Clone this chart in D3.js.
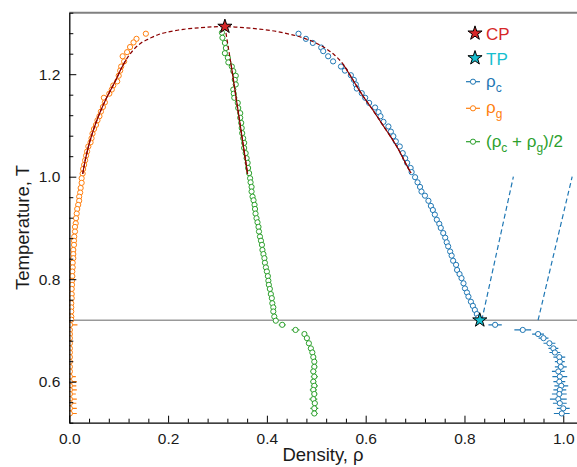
<!DOCTYPE html>
<html>
<head>
<meta charset="utf-8">
<script src="https://cdn.jsdelivr.net/npm/d3@7"></script>
<style>
  body { margin: 0; background: #fff; }
  svg text { font-family: "Liberation Sans", Arial, Helvetica, sans-serif; }
  .axis text { font-size: 15.5px; fill: #1a1a1a; }
  .axis path, .axis line { stroke: #000; }
</style>
</head>
<body>
<svg id="chart" width="577" height="467"></svg>
<script>
// liquid branch, rho_c (above the triple point)
const tempsLiq = [1.279,1.269,1.261,1.252,1.245,1.235,1.225,1.215,1.207,1.198,1.189,1.180,1.172,1.163,1.154,1.144,1.135,1.126,1.118,1.107,1.098,1.088,1.079,1.069,1.059,1.046,1.036,1.027,1.017,1.009,0.999,0.989,0.980,0.971,0.963,0.953,0.943,0.935,0.926,0.916,0.908,0.900,0.890,0.881,0.872,0.864,0.854,0.846,0.836,0.828,0.818,0.810,0.802,0.792,0.782,0.774,0.766,0.756,0.748,0.740,0.732,0.725]
const rhoLiq = [0.464,0.479,0.493,0.510,0.514,0.524,0.534,0.550,0.558,0.570,0.576,0.580,0.582,0.592,0.599,0.607,0.619,0.626,0.630,0.636,0.646,0.651,0.656,0.661,0.669,0.675,0.680,0.684,0.691,0.693,0.700,0.705,0.710,0.713,0.720,0.727,0.732,0.736,0.740,0.744,0.749,0.752,0.757,0.761,0.764,0.767,0.771,0.774,0.777,0.783,0.785,0.790,0.794,0.798,0.801,0.805,0.808,0.813,0.817,0.821,0.825,0.828]

// gas branch, rho_g
const tempsGas = [1.279,1.269,1.262,1.253,1.243,1.235,1.225,1.215,1.207,1.197,1.186,1.178,1.170,1.162,1.154,1.145,1.136,1.127,1.118,1.110,1.101,1.093,1.084,1.075,1.067,1.059,1.049,1.041,1.032,1.023,1.015,1.006,0.997,0.988,0.978,0.969,0.961,0.953,0.945,0.937,0.928,0.919,0.909,0.902,0.893,0.883,0.875,0.867,0.857,0.849,0.841,0.832,0.823,0.815,0.806,0.797,0.789,0.781,0.771,0.763,0.753,0.745,0.737,0.727,0.721]
const rhoGas = [0.155,0.136,0.130,0.123,0.117,0.108,0.111,0.105,0.103,0.100,0.097,0.089,0.086,0.081,0.070,0.072,0.068,0.064,0.061,0.057,0.054,0.050,0.047,0.045,0.043,0.0385,0.036,0.034,0.032,0.030,0.028,0.027,0.025,0.025,0.023,0.022,0.020,0.020,0.018,0.016,0.015,0.0136,0.013,0.0115,0.0115,0.010,0.0095,0.0095,0.0081,0.0081,0.0081,0.0069,0.0069,0.0061,0.0061,0.0055,0.0055,0.0049,0.0049,0.0049,0.004,0.004,0.004,0.004,0.004]

// (rho_c + rho_g)/2
const tempsMid = [1.281,1.271,1.261,1.251,1.241,1.232,1.223,1.215,1.206,1.197,1.189,1.180,1.170,1.162,1.154,1.144,1.134,1.124,1.115,1.105,1.095,1.085,1.075,1.066,1.056,1.046,1.036,1.027,1.017,1.007,0.997,0.989,0.980,0.971,0.961,0.954,0.945,0.937,0.928,0.919,0.911,0.902,0.893,0.883,0.875,0.867,0.857,0.849,0.841,0.832,0.823,0.815,0.806,0.797,0.789,0.781,0.771,0.763,0.753,0.745,0.737,0.727,0.719]
const rhoMid = [0.309,0.310,0.315,0.317,0.315,0.321,0.322,0.329,0.332,0.337,0.335,0.337,0.332,0.333,0.334,0.341,0.342,0.346,0.346,0.348,0.349,0.350,0.352,0.354,0.354,0.357,0.359,0.361,0.362,0.364,0.366,0.367,0.369,0.369,0.371,0.373,0.375,0.376,0.377,0.379,0.381,0.383,0.384,0.386,0.388,0.390,0.391,0.393,0.395,0.396,0.398,0.400,0.402,0.403,0.404,0.406,0.408,0.410,0.411,0.413,0.413,0.415,0.418]

// below the triple point (with error bars)
const tempsLow = [0.711,0.701,0.693,0.685,0.675,0.665,0.657,0.648,0.639,0.629,0.620,0.610,0.600,0.592,0.584,0.576,0.566,0.558,0.548,0.538]
const rhoSolid = [0.862,0.918,0.949,0.960,0.972,0.980,0.983,0.992,0.993,0.995,0.990,0.993,0.992,0.996,0.993,0.992,0.990,0.993,1.000,0.997]
const errSolid = [0.0135,0.017,0.012,0.010,0.012,0.010,0.011,0.012,0.010,0.012,0.013,0.015,0.012,0.014,0.013,0.015,0.017,0.014,0.013,0.016]
const rhoGasLow = [0.0015,0.0012,0.0012,0.0012,0.0012,0.0012,0.0012,0.0012,0.0012,0.0012,0.0012,0.0012,0.0012,0.0012,0.0012,0.0012,0.0012,0.0012,0.0012,0.0012]
const errGasLow = [0.015,0.005,0.003,0.003,0.003,0.004,0.003,0.004,0.003,0.004,0.003,0.012,0.014,0.013,0.014,0.012,0.014,0.013,0.014,0.014]
const rhoMidLow = [0.431,0.458,0.476,0.481,0.485,0.489,0.492,0.494,0.496,0.496,0.494,0.496,0.494,0.496,0.494,0.496,0.494,0.497,0.496,0.496]
const errMidLow = [0.007,0.008,0.005,0.004,0.004,0.005,0.004,0.005,0.005,0.006,0.006,0.007,0.006,0.007,0.007,0.006,0.008,0.006,0.008,0.007]

// fitted coexistence curve [rho, T], gas end -> CP -> liquid end
const coexFit = [[0.0271,1.0053],[0.0324,1.0326],[0.0385,1.058],[0.0455,1.0814],[0.0545,1.1067],[0.0642,1.1301],[0.0753,1.1536],[0.087,1.175],[0.0962,1.1926],[0.1036,1.2082],[0.1148,1.2277],[0.1296,1.2472],[0.1451,1.2609],[0.1634,1.27],[0.1806,1.2775],[0.1972,1.2817],[0.2308,1.2876],[0.2646,1.2907],[0.2889,1.2923],[0.3152,1.2927],[0.3455,1.2915],[0.3759,1.289],[0.4063,1.2855],[0.4366,1.28],[0.463,1.274],[0.4893,1.2652],[0.5146,1.2531],[0.5368,1.2375],[0.5541,1.2199],[0.5682,1.1984],[0.5804,1.1789],[0.5945,1.1575],[0.6117,1.134],[0.6279,1.1106],[0.6441,1.0872],[0.6593,1.0648],[0.6725,1.0423],[0.6826,1.0228],[0.6917,1.0072]]
const diamFit = [[0.315,1.293],[0.327,1.222],[0.361,1.005]]
const fitRange = [1.0, 1.23]
// melting lines (dashed blue)
const meltLeft = [[0.835,0.72],[0.899,1.0]]
const meltRight = [[0.949,0.72],[1.018,1.0]]
const criticalPoint = [0.315, 1.293]
const triplePoint = [0.831, 0.72]
const xMajor = [0, 0.2, 0.4, 0.6, 0.8, 1.0]
const xMinor = [0.04,0.08,0.12,0.16,0.24,0.28,0.32,0.36,0.44,0.48,0.52,0.56,0.64,0.68,0.72,0.76,0.84,0.88,0.92,0.96,1.04]
const yMajor = [0.6, 0.8, 1.0, 1.2]
const yMinor = [0.52,0.56,0.64,0.68,0.72,0.76,0.84,0.88,0.92,0.96,1.04,1.08,1.12,1.16,1.24,1.28,1.32]

const colors = { liq: '#1f77b4', gas: '#ff7f0e', mid: '#2ca02c', cp: '#d62728', tp: '#17becf', fit: '#8b0000' }

const svg = d3.select('#chart')
const plotLeft = 69.3, plotRight = 577.3, plotTop = 12.7, plotBottom = 422.7

const x = d3.scaleLinear().domain([0, 1.0284]).range([plotLeft, plotRight])
const y = d3.scaleLinear().domain([0.52, 1.32]).range([plotBottom, plotTop])

svg.append('clipPath').attr('id', 'plot-clip')
  .append('rect')
    .attr('x', plotLeft).attr('y', plotTop)
    .attr('width', plotRight - plotLeft).attr('height', plotBottom - plotTop)

// top frame and triple point line
svg.append('line')
  .attr('x1', plotLeft).attr('x2', plotRight)
  .attr('y1', y(1.32)).attr('y2', y(1.32))
  .attr('stroke', '#808080').attr('stroke-width', 2)

svg.append('line')
  .attr('x1', plotLeft).attr('x2', plotRight)
  .attr('y1', y(triplePoint[1])).attr('y2', y(triplePoint[1]))
  .attr('stroke', '#999').attr('stroke-width', 1.5)

const plot = svg.append('g').attr('clip-path', 'url(#plot-clip)')

function drawSeries(temps, rhos, errs, color) {
  const pts = temps.map((t, i) => ({ t, r: rhos[i], e: errs ? errs[i] : 0 }))
  if (errs) {
    plot.append('g')
      .selectAll('line')
      .data(pts)
      .enter()
      .append('line')
        .attr('x1', d => x(d.r - d.e))
        .attr('x2', d => x(d.r + d.e))
        .attr('y1', d => y(d.t))
        .attr('y2', d => y(d.t))
        .attr('stroke', color)
        .attr('stroke-width', 1.2)
  }
  plot.append('g')
    .selectAll('circle')
    .data(pts)
    .enter()
    .append('circle')
      .attr('cx', d => x(d.r))
      .attr('cy', d => y(d.t))
      .attr('r', 2.6)
      .attr('fill', '#fff')
      .attr('stroke', color)
      .attr('stroke-width', 1)
}

drawSeries(tempsLiq, rhoLiq, null, colors.liq)
drawSeries(tempsLow, rhoSolid, errSolid, colors.liq)
drawSeries(tempsGas, rhoGas, null, colors.gas)
drawSeries(tempsLow, rhoGasLow, errGasLow, colors.gas)
drawSeries(tempsMid, rhoMid, null, colors.mid)
drawSeries(tempsLow, rhoMidLow, errMidLow, colors.mid)

// fits: dashed over the whole curve, solid where the fit was made
const fitLine = d3.line()
  .x(d => x(d[0]))
  .y(d => y(d[1]))
  .curve(d3.curveCatmullRom)

const inFit = d => d[1] >= fitRange[0] && d[1] <= fitRange[1]

plot.append('path')
  .attr('d', fitLine(coexFit))
  .attr('fill', 'none').attr('stroke', colors.fit)
  .attr('stroke-width', 1.2).attr('stroke-dasharray', '4,2.5')

plot.append('path')
  .attr('d', fitLine.defined(inFit)(coexFit))
  .attr('fill', 'none').attr('stroke', colors.fit).attr('stroke-width', 1.2)

const straight = d3.line().x(d => x(d[0])).y(d => y(d[1]))

plot.append('path')
  .attr('d', straight(diamFit))
  .attr('fill', 'none').attr('stroke', colors.fit)
  .attr('stroke-width', 1.2).attr('stroke-dasharray', '4,2.5')

plot.append('path')
  .attr('d', straight.defined(inFit)(diamFit))
  .attr('fill', 'none').attr('stroke', colors.fit).attr('stroke-width', 1.2)

;[meltLeft, meltRight].forEach(m => {
  plot.append('path')
    .attr('d', d3.line().x(d => x(d[0])).y(d => y(d[1]))(m))
    .attr('fill', 'none').attr('stroke', colors.liq)
    .attr('stroke-width', 1.2).attr('stroke-dasharray', '5,3')
})

// stars
const star = d3.symbol().type(d3.symbolStar).size(62)
;[[criticalPoint, colors.cp], [triplePoint, colors.tp]].forEach(([p, c]) => {
  svg.append('path')
    .attr('d', star())
    .attr('transform', `translate(${x(p[0])}, ${y(p[1])})`)
    .attr('fill', c).attr('stroke', '#000').attr('stroke-width', 1)
})

// axes
svg.append('g')
  .attr('class', 'axis')
  .attr('transform', `translate(0, ${plotBottom})`)
  .call(d3.axisBottom(x).tickValues(xMajor).tickFormat(d3.format('.1f')).tickSize(-7).tickSizeOuter(0).tickPadding(10))
  .call(g => g.select('.domain').attr('stroke-width', 1.3))

svg.append('g')
  .attr('class', 'axis')
  .attr('transform', `translate(0, ${plotBottom})`)
  .call(d3.axisBottom(x).tickValues(xMinor).tickFormat('').tickSize(-4))
  .call(g => g.select('.domain').remove())

svg.append('g')
  .attr('class', 'axis')
  .attr('transform', `translate(${plotLeft}, 0)`)
  .call(d3.axisLeft(y).tickValues(yMajor).tickFormat(d3.format('.1f')).tickSize(-7).tickSizeOuter(0).tickPadding(9))
  .call(g => g.select('.domain').attr('stroke-width', 1.3))

svg.append('g')
  .attr('class', 'axis')
  .attr('transform', `translate(${plotLeft}, 0)`)
  .call(d3.axisLeft(y).tickValues(yMinor).tickFormat('').tickSize(-4))
  .call(g => g.select('.domain').remove())

svg.append('text')
  .attr('x', 323).attr('y', 461)
  .attr('text-anchor', 'middle')
  .attr('font-size', 18.5).attr('fill', '#1a1a1a')
  .text('Density, ρ')

svg.append('text')
  .attr('transform', 'translate(28.5, 227.5) rotate(-90)')
  .attr('text-anchor', 'middle')
  .attr('font-size', 18.5).attr('fill', '#1a1a1a')
  .text('Temperature, T')

// legend
const legend = svg.append('g').attr('transform', 'translate(475, 0)')
const lx = 11

;[[33.3, colors.cp, 'CP'], [58, colors.tp, 'TP']].forEach(([ly, c, label]) => {
  legend.append('path')
    .attr('d', star())
    .attr('transform', `translate(0, ${ly})`)
    .attr('fill', c).attr('stroke', '#000').attr('stroke-width', 1)
  legend.append('text')
    .attr('x', lx).attr('y', ly + 6.5)
    .attr('font-size', 17).attr('fill', c)
    .text(label)
})

const entries = [
  { y: 81.7, c: colors.liq, parts: [['ρ', 0], ['c', 1]] },
  { y: 108.3, c: colors.gas, parts: [['ρ', 0], ['g', 1]] },
  { y: 141.7, c: colors.mid, parts: [['(ρ', 0], ['c', 1], [' + ρ', 0], ['g', 1], [')/2', 0]] },
]

entries.forEach(e => {
  legend.append('line')
    .attr('x1', -9).attr('x2', 5)
    .attr('y1', e.y).attr('y2', e.y)
    .attr('stroke', e.c).attr('stroke-width', 1.2)
  legend.append('circle')
    .attr('cx', -2).attr('cy', e.y).attr('r', 2.6)
    .attr('fill', '#fff').attr('stroke', e.c).attr('stroke-width', 1)
  const t = legend.append('text')
    .attr('x', lx).attr('y', e.y + 5)
    .attr('font-size', 17).attr('fill', e.c)
  e.parts.forEach(([s, sub], i) => {
    const prevSub = i > 0 && e.parts[i - 1][1]
    t.append('tspan')
      .attr('font-size', sub ? 12 : 17)
      .attr('dy', sub ? 5 : (prevSub ? -5 : 0))
      .text(s)
  })
})
</script>
</body>
</html>
